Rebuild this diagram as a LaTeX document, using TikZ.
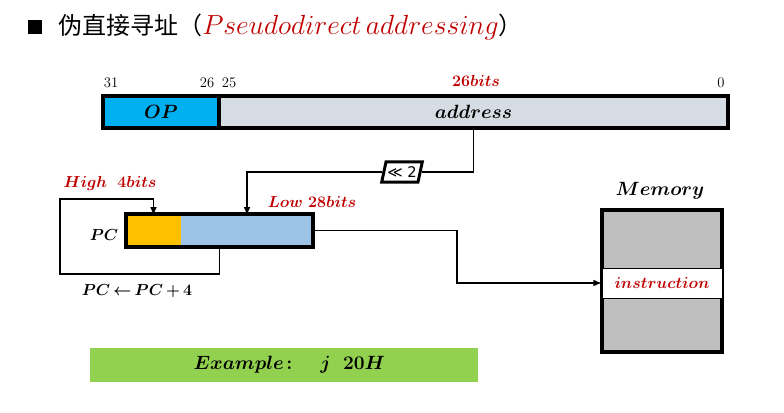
\documentclass[tikz,border=0pt]{standalone}
\usepackage{amsmath, amssymb}
\usepackage{fontspec}
\usetikzlibrary{shapes.geometric}
\newfontfamily\cjkfont{Noto Sans CJK SC}
\newfontfamily\symsans{DejaVu Sans}
\definecolor{opblue}{HTML}{00B0F0}
\definecolor{addrgray}{HTML}{D6DCE4}
\definecolor{hiorange}{HTML}{FFC000}
\definecolor{lowblue}{HTML}{9DC3E6}
\definecolor{memgray}{HTML}{BFBFBF}
\definecolor{exgreen}{HTML}{92D050}
\definecolor{darkred}{HTML}{C00000}
\tikzset{
  fieldbox/.style={inner sep=0pt, outer sep=0pt, anchor=north west},
  thickbox/.style={draw, line width=2.5pt},
  conn/.style={line width=1.2pt, >=latex},
  numfont/.style={font=\fontsize{11}{13}\selectfont},
  lblfont/.style={font=\fontsize{12}{14}\selectfont\boldmath},
  fldfont/.style={font=\fontsize{14}{16}\selectfont\boldmath},
  bigfont/.style={font=\fontsize{15.5}{17}\selectfont\boldmath},
}

\begin{document}
\begin{tikzpicture}[x=0.75pt,y=0.75pt,yscale=-1,xscale=1]
        \useasboundingbox (0,0) rectangle (784,413);

        % Title
        \node [fill=black, minimum size=10pt, inner sep=0pt] (bullet) at (35,27) {};
        \node [anchor=west, inner sep=0pt, font=\fontsize{18}{20}\selectfont] (title) at (58,27) {\cjkfont 伪直接寻址（\textcolor{darkred}{\fontsize{21}{22}\selectfont$Pseudodirect\,addressing$}）};

        % Instruction fields
        \node [fieldbox, thickbox, fldfont, fill=opblue, minimum width=87pt, minimum height=24pt] (op) at (103,96) {$OP$};
        \node [fieldbox, thickbox, fldfont, fill=addrgray, minimum width=381.75pt, minimum height=24pt] (addr) at (219,96) {$address$};

        % Text Node
        \draw (111,83) node [numfont] (b31) {31};
        % Text Node
        \draw (207,83) node [numfont] (b26) {26};
        % Text Node
        \draw (229,83) node [numfont] (b25) {25};
        % Text Node
        \draw (721,83) node [numfont] (b0) {0};
        % Text Node
        \draw (476,81) node [lblfont, text=darkred] (bits26) {$26bits$};

        % Shift box
        \node [trapezium, trapezium left angle=78, trapezium right angle=102, draw, line width=2.2pt, fill=white, inner xsep=1pt, inner ysep=3.5pt, font=\symsans\fontsize{11}{12}\selectfont] (shift) at (402,172) {≪ 2};

        % PC register
        \node [fieldbox, fill=hiorange, minimum width=41.25pt, minimum height=24.75pt] (hi) at (126,214) {};
        \node [fieldbox, fill=lowblue, minimum width=99pt, minimum height=24.75pt] (lo) at (181,214) {};
        \node [fieldbox, thickbox, minimum width=140.25pt, minimum height=24.75pt] (pc) at (126,214) {};

        % Memory
        \node [fieldbox, thickbox, fill=memgray, minimum width=90pt, minimum height=106.5pt] (mem) at (602,210) {};
        \node [fieldbox, lblfont, draw, line width=0.75pt, fill=white, text=darkred, minimum width=90pt, minimum height=22.5pt] (inst) at (602,268) {$instruction$};

        % Connectors
        \draw [conn] (addr.south) |- (shift.east);
        \draw [conn,->] (shift.west) -| ([yshift=1.2pt]lo.north);
        \coordinate (loopbl) at (60,274);
        \coordinate (looptl) at (60,199);
        \draw [conn,->] ([yshift=-1.2pt]pc.south) |- (loopbl) -- (looptl) -| ([yshift=1.2pt]hi.north);
        \coordinate (bend) at (457,283);
        \draw [conn,->] ([xshift=1.2pt]pc.east) -| (bend) -- (inst.west);

        % Text Node
        \draw (104,235) node [lblfont] (pclabel) {$PC$};
        % Text Node
        \draw (110,184) node [lblfont, text=darkred] (high) {$High\ \ 4bits$};
        % Text Node
        \draw (312,202) node [lblfont, text=darkred] (low) {$Low\ 28bits$};
        % Text Node
        \draw (137,291) node [lblfont] (incr) {$PC\,{\leftarrow}\,PC\,{+}\,4$};
        % Text Node
        \draw (660,191) node [bigfont] (memlabel) {$Memory$};

        % Example bar
        \node [fieldbox, bigfont, fill=exgreen, minimum width=291pt, minimum height=25.5pt] (example) at (90,348) {\hspace*{8pt}$Example\colon\quad j\ \ 20H$};
\end{tikzpicture}
\end{document}
